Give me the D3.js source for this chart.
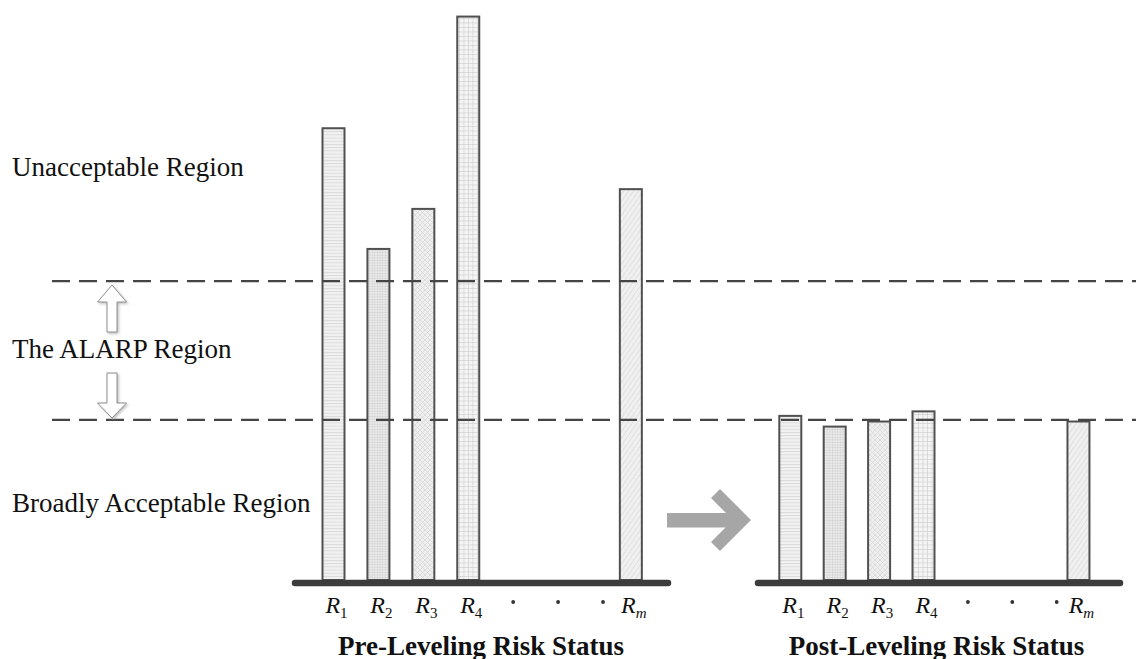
<!DOCTYPE html>
<html>
<head>
<meta charset="utf-8">
<script src="https://cdn.jsdelivr.net/npm/d3@7"></script>
<style>
  html, body { margin: 0; padding: 0; background: #fff; }
  svg { display: block; }
  text { font-family: "Liberation Serif", "Times New Roman", serif; fill: #111; }
</style>
</head>
<body>
<svg id="chart" width="1136" height="659"></svg>
<script>
// ---------- data ----------
const categories = ["R1", "R2", "R3", "R4", "Rm"];
const subscripts = ["1", "2", "3", "4", "m"];
const preValues  = [80.1, 58.7, 65.8, 99.9, 69.3];   // pre-leveling risk levels
const postValues = [29.1, 27.2, 28.1, 29.9, 28.1];   // post-leveling risk levels
const thresholds = [53.0, 28.4];                      // upper / lower ALARP limits
const regionLabels = ["Unacceptable Region", "The ALARP Region", "Broadly Acceptable Region"];
const panelTitles = ["Pre-Leveling Risk Status", "Post-Leveling Risk Status"];
const dotSlots = ["d1", "d2", "d3"];

// ---------- layout ----------
const W = 1136, H = 659;
const svg = d3.select("#chart");
const y = d3.scaleLinear().domain([0, 100]).range([580, 16]);
const barW = 22;

const panels = [
  { values: preValues, title: panelTitles[0], range: [333.5, 603], rmOffset: 0.62, base: [295, 668], titleX: 481 },
  { values: postValues, title: panelTitles[1], range: [790.3, 1056.7], rmOffset: 0.49, base: [758, 1120], titleX: 936.5 }
];

// ---------- patterns ----------
const defs = svg.append("defs");
function pat(id, w, h, bg, draw, transform) {
  const p = defs.append("pattern").attr("id", id).attr("patternUnits", "userSpaceOnUse")
    .attr("width", w).attr("height", h);
  if (transform) p.attr("patternTransform", transform);
  p.append("rect").attr("width", w).attr("height", h).attr("fill", bg);
  draw(p);
}
pat("p0", 6, 3.2, "#f1f1f1", p => p.append("line").attr("x1", 0).attr("x2", 6).attr("y1", 0.5).attr("y2", 0.5).attr("stroke", "#d2d2d2").attr("stroke-width", 0.8));
pat("p1", 2.6, 2.6, "#ececec", p => {
  p.append("line").attr("x1", 0).attr("x2", 2.6).attr("y1", 0.3).attr("y2", 0.3).attr("stroke", "#cdcdcd").attr("stroke-width", 0.6);
  p.append("line").attr("y1", 0).attr("y2", 2.6).attr("x1", 0.3).attr("x2", 0.3).attr("stroke", "#cdcdcd").attr("stroke-width", 0.6);
});
pat("p2", 5, 5, "#efefef", p => {
  p.append("path").attr("d", "M0,0L5,5M5,0L0,5").attr("stroke", "#d4d4d4").attr("stroke-width", 0.7);
});
pat("p3", 4.5, 4.5, "#f4f4f4", p => {
  p.append("line").attr("x1", 0).attr("x2", 4.5).attr("y1", 0.4).attr("y2", 0.4).attr("stroke", "#cfcfcf").attr("stroke-width", 0.7);
  p.append("line").attr("y1", 0).attr("y2", 4.5).attr("x1", 0.4).attr("x2", 0.4).attr("stroke", "#cfcfcf").attr("stroke-width", 0.7);
});
pat("p4", 4, 4, "#f0f0f0", p => {
  p.append("line").attr("x1", 0).attr("x2", 0).attr("y1", 0).attr("y2", 4).attr("stroke", "#d6d6d6").attr("stroke-width", 1.2);
}, "rotate(35)");

// shadow filter for hollow arrows
const f = defs.append("filter").attr("id", "sh").attr("x", "-30%").attr("y", "-30%").attr("width", "160%").attr("height", "160%");
f.append("feDropShadow").attr("dx", 1.5).attr("dy", 1.5).attr("stdDeviation", 1).attr("flood-color", "#999").attr("flood-opacity", 0.6);

// ---------- panels ----------
panels.forEach(pn => {
  const x = d3.scalePoint().domain(categories.slice(0, 4).concat(dotSlots)).range(pn.range);
  const cx = (c) => c === "Rm" ? x("d3") + pn.rmOffset * x.step() : x(c);
  const g = svg.append("g");

  g.selectAll("rect.bar").data(categories).join("rect")
    .attr("class", "bar")
    .attr("x", c => cx(c) - barW / 2)
    .attr("width", barW)
    .attr("y", (c, i) => y(pn.values[i]))
    .attr("height", (c, i) => y(0) - y(pn.values[i]))
    .attr("fill", (c, i) => `url(#p${i})`)
    .attr("stroke", "#505050")
    .attr("stroke-width", 2);

  // labels
  const lab = g.selectAll("text.lab").data(categories).join("text")
    .attr("class", "lab")
    .attr("x", c => cx(c) + 3)
    .attr("y", 613)
    .attr("text-anchor", "middle")
    .style("font-size", "24px");
  lab.append("tspan").style("font-style", "italic").text("R");
  lab.append("tspan").attr("dy", 5)
    .style("font-size", "15px")
    .style("font-style", (c, i) => /\d/.test(subscripts[i]) ? "normal" : "italic")
    .text((c, i) => subscripts[i]);

  // ellipsis dots
  g.selectAll("circle.dot").data(dotSlots).join("circle")
    .attr("cx", d => x(d)).attr("cy", 602).attr("r", 1.9).attr("fill", "#333");

  // title
  g.append("text").attr("x", pn.titleX).attr("y", 655).attr("text-anchor", "middle")
    .style("font-weight", "bold").style("font-size", "27px").text(pn.title);
});

// dashed threshold lines
svg.selectAll("line.thr").data(thresholds).join("line")
  .attr("class", "thr")
  .attr("x1", 52).attr("x2", W)
  .attr("y1", d => y(d)).attr("y2", d => y(d))
  .attr("stroke", "#454545").attr("stroke-width", 2.2)
  .attr("stroke-dasharray", "18,9");

// baselines
panels.forEach(pn => {
  svg.append("line").attr("x1", pn.base[0]).attr("x2", pn.base[1])
    .attr("y1", y(0) + 3).attr("y2", y(0) + 3)
    .attr("stroke", "#3c3c3c").attr("stroke-width", 6.5).attr("stroke-linecap", "round");
});

// region labels
const regionY = [y(71.6), y(39.4), y(12.1)];
svg.selectAll("text.reg").data(regionLabels).join("text")
  .attr("class", "reg").attr("x", 12).attr("y", (d, i) => regionY[i])
  .style("font-size", "27px").text(d => d);

// hollow up / down arrows
const ax = 112;
const up = [[ax, 285], [ax + 14.5, 302], [ax + 5, 302], [ax + 5, 332], [ax - 5, 332], [ax - 5, 302], [ax - 14.5, 302]];
const down = [[ax - 5, 373], [ax + 5, 373], [ax + 5, 403], [ax + 14.5, 403], [ax, 418], [ax - 14.5, 403], [ax - 5, 403]];
[up, down].forEach(pts => {
  svg.append("polygon").attr("points", pts.map(p => p.join(",")).join(" "))
    .attr("fill", "#fff").attr("stroke", "#8c8c8c").attr("stroke-width", 1).attr("filter", "url(#sh)");
});

// big grey transition arrow
svg.append("rect").attr("x", 667).attr("y", 513).attr("width", 68).attr("height", 14.5).attr("fill", "#a6a6a6");
svg.append("polygon")
  .attr("points", "720,489 751,520 720,551 711,542 733,520 711,498")
  .attr("fill", "#a6a6a6");
</script>
</body>
</html>
